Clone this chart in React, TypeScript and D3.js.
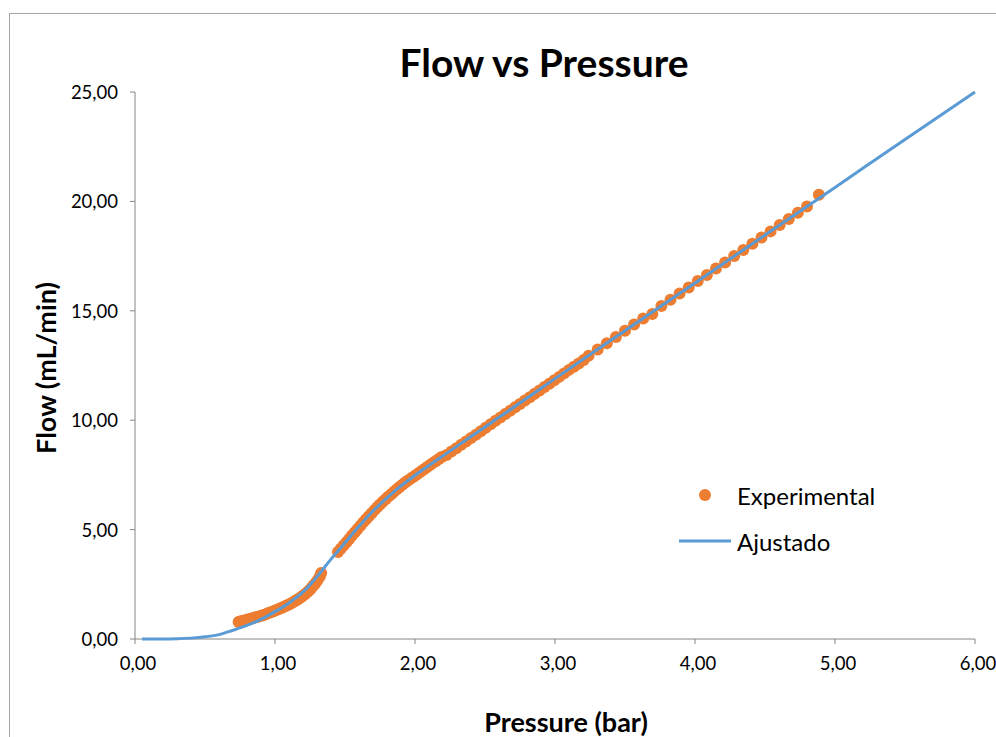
import React from "react";
import * as d3 from "d3";

const title = "Flow vs Pressure";
const xTitle = "Pressure (bar)";
const yTitle = "Flow (mL/min)";
const seriesNames = ["Experimental", "Ajustado"];
const xTicks = [0, 1, 2, 3, 4, 5, 6];
const yTicks = [0, 5, 10, 15, 20, 25];

const expPressure = [
  0.74, 0.75, 0.765, 0.78, 0.795, 0.81, 0.825, 0.84, 0.855, 0.87, 0.885, 0.9, 0.915, 0.93, 0.945, 0.96, 0.975, 0.99,
  1.005, 1.02, 1.035, 1.05, 1.065, 1.08, 1.095, 1.11, 1.125, 1.14, 1.155, 1.17, 1.185, 1.2, 1.215, 1.23, 1.245, 1.26,
  1.275, 1.29, 1.305, 1.32, 1.33,
  1.45, 1.47, 1.49, 1.51, 1.53, 1.55, 1.57, 1.59, 1.61, 1.63, 1.65, 1.67, 1.69, 1.71, 1.73, 1.75, 1.77, 1.79, 1.81,
  1.83, 1.85, 1.87, 1.89, 1.91, 1.93, 1.95, 1.97, 1.99, 2.01, 2.03, 2.05, 2.07, 2.09, 2.11, 2.13, 2.15, 2.17, 2.19,
  2.225, 2.26, 2.295, 2.33, 2.365, 2.4, 2.435, 2.47, 2.505, 2.54, 2.575, 2.61, 2.645, 2.68, 2.715, 2.75, 2.785, 2.82,
  2.855, 2.89, 2.925, 2.96, 2.995, 3.03, 3.065, 3.1, 3.135, 3.17, 3.205,
  3.24, 3.305, 3.37, 3.435, 3.5, 3.565, 3.63, 3.695, 3.76, 3.825, 3.89, 3.955, 4.02, 4.085, 4.15, 4.215, 4.28, 4.345,
  4.41, 4.475, 4.54, 4.605, 4.67, 4.735, 4.8, 4.885,
];
const expFlow = [
  0.78, 0.8, 0.82, 0.85, 0.87, 0.9, 0.92, 0.95, 0.98, 1.0, 1.03, 1.06, 1.09, 1.12, 1.16, 1.2, 1.23, 1.27,
  1.31, 1.35, 1.39, 1.43, 1.47, 1.52, 1.56, 1.61, 1.67, 1.72, 1.78, 1.84, 1.91, 1.98, 2.06, 2.14, 2.23, 2.33,
  2.44, 2.56, 2.7, 2.86, 3.02,
  3.98, 4.12, 4.27, 4.42, 4.57, 4.73, 4.88, 5.03, 5.18, 5.33, 5.47, 5.61, 5.75, 5.89, 6.02, 6.15, 6.27, 6.39, 6.51,
  6.62, 6.73, 6.84, 6.95, 7.05, 7.15, 7.24, 7.33, 7.42, 7.51, 7.6, 7.69, 7.78, 7.87, 7.96, 8.05, 8.14, 8.23, 8.32,
  8.41, 8.57, 8.72, 8.88, 9.03, 9.19, 9.34, 9.5, 9.65, 9.81, 9.97, 10.12, 10.28, 10.43, 10.59, 10.74, 10.9, 11.05,
  11.21, 11.36, 11.52, 11.67, 11.83, 11.98, 12.14, 12.3, 12.44, 12.59, 12.75,
  12.95, 13.23, 13.52, 13.8, 14.09, 14.37, 14.65, 14.85, 15.22, 15.51, 15.79, 16.07, 16.36, 16.64, 16.93, 17.21, 17.5, 17.78,
  18.06, 18.35, 18.63, 18.92, 19.2, 19.48, 19.77, 20.3,
];

const fitPressure = [
  0.05, 0.2, 0.3, 0.4, 0.5, 0.6, 0.7, 0.8, 0.9, 1.0, 1.1, 1.2, 1.3, 1.4, 1.5, 1.6, 1.7, 1.8, 1.9, 2.0, 2.1, 2.2, 2.4,
  2.6, 2.8, 3.0, 3.5, 4.0, 4.5, 5.0, 5.5, 6.0,
];
const fitFlow = [
  0, 0, 0.01, 0.04, 0.1, 0.2, 0.4, 0.62, 0.9, 1.25, 1.65, 2.15, 2.85, 3.65, 4.4, 5.15, 5.85, 6.45, 7.0, 7.48, 7.93, 8.37,
  9.25, 10.13, 11.01, 11.9, 14.09, 16.27, 18.46, 20.64, 22.83, 25.0,
];

const W = 996;
const H = 737;
const FONT = "Lato, 'Open Sans', sans-serif";
const AXIS = "#868686";
const ORANGE = "#ED7D31";
const BLUE = "#5B9BD5";

export default function App() {
  const x = d3.scaleLinear().domain([0, 6]).range([135, 975]);
  const y = d3.scaleLinear().domain([0, 25]).range([639, 92]);
  const fmt = (v: number) => v.toFixed(2).replace(".", ",");

  const fitData = fitPressure.map((p, i) => [p, fitFlow[i]] as [number, number]);
  const line = d3
    .line<[number, number]>()
    .x((d) => x(d[0]))
    .y((d) => y(d[1]))
    .curve(d3.curveMonotoneX);

  return (
    <svg
      width={W}
      height={H}
      style={{ position: "absolute", left: 0, top: 0, background: "#fff" }}
      fontFamily={FONT}
    >
      <rect x={0} y={0} width={W} height={H} fill="#fff" />
      <rect x={9.5} y={13.5} width={W + 20} height={H + 20} fill="#fff" stroke="#a6a6a6" strokeWidth={1} />

      <text x={544} y={62} textAnchor="middle" dominantBaseline="central" fontSize={39} fontWeight="bold" fill="#000">
        {title}
      </text>

      {/* axes */}
      <line x1={x(0)} x2={x(0)} y1={y(25)} y2={y(0)} stroke={AXIS} strokeWidth={1} />
      <line x1={x(0)} x2={x(6)} y1={y(0)} y2={y(0)} stroke={AXIS} strokeWidth={1} />
      {yTicks.map((t) => (
        <g key={"y" + t}>
          <line x1={x(0) - 5} x2={x(0)} y1={y(t)} y2={y(t)} stroke={AXIS} />
          <text x={118} y={y(t)} textAnchor="end" dominantBaseline="central" fontSize={18.5} fill="#000">
            {fmt(t)}
          </text>
        </g>
      ))}
      {xTicks.map((t) => (
        <g key={"x" + t}>
          <line x1={x(t)} x2={x(t)} y1={y(0)} y2={y(0) + 5} stroke={AXIS} />
          <text x={x(t) + 3} y={663} textAnchor="middle" dominantBaseline="central" fontSize={18.5} fill="#000">
            {fmt(t)}
          </text>
        </g>
      ))}

      <text x={566} y={721} textAnchor="middle" dominantBaseline="central" fontSize={27} fontWeight="bold" fill="#000">
        {xTitle}
      </text>
      <text
        transform={`translate(45,368) rotate(-90)`}
        textAnchor="middle"
        dominantBaseline="central"
        fontSize={27}
        fontWeight="bold"
        fill="#000"
      >
        {yTitle}
      </text>

      {/* data */}
      {expPressure.map((p, i) => (
        <circle key={"p" + i} cx={x(p)} cy={y(expFlow[i])} r={6} fill={ORANGE} />
      ))}
      <path d={line(fitData) || ""} fill="none" stroke={BLUE} strokeWidth={3} />

      {/* legend */}
      <circle cx={705} cy={495} r={6} fill={ORANGE} />
      <text x={737} y={495} dominantBaseline="central" fontSize={24} fill="#000">
        {seriesNames[0]}
      </text>
      <line x1={679} x2={731} y1={541} y2={541} stroke={BLUE} strokeWidth={3} />
      <text x={737} y={541} dominantBaseline="central" fontSize={24} fill="#000">
        {seriesNames[1]}
      </text>
    </svg>
  );
}
